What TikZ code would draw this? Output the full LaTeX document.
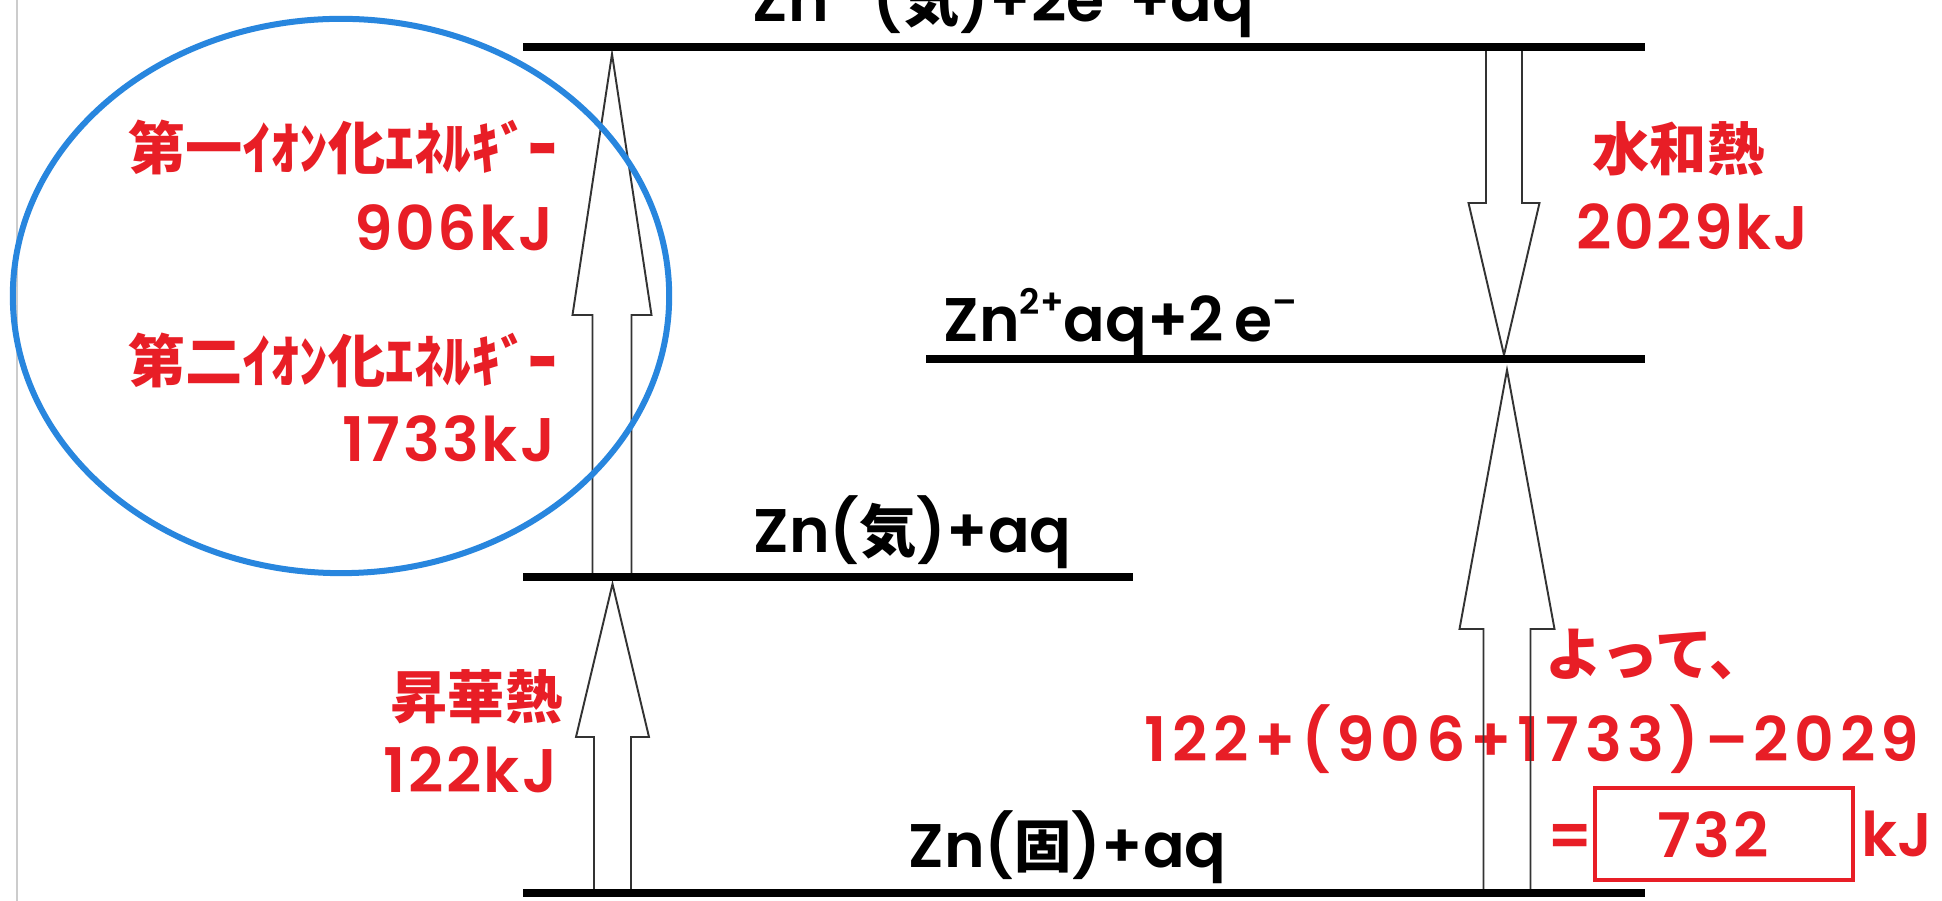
\documentclass[tikz,border=0pt]{standalone}
\usepackage{fontspec}
\setmainfont{Poppins}[BoldFont={Poppins SemiBold}]
\newfontfamily\jp{Noto Sans CJK JP}[Scale=0.93]
\definecolor{lblred}{RGB}{232,30,38}
\definecolor{ringblue}{RGB}{40,134,222}
\newcommand\sups[1]{\raisebox{0.27cm}{\fontsize{10}{10}\selectfont #1}}
\newcommand\blockarrow[6]{%
  \draw[blk] (#1-#5,#2) -- (#1-#5,#3) -- (#1-#6,#3) -- (#1,#4) -- (#1+#6,#3) -- (#1+#5,#3) -- (#1+#5,#2);}
\begin{document}
\begin{tikzpicture}[x=0.01cm,y=-0.01cm,
  level/.style={line width=0.08cm, black},
  blk/.style={draw=black!80, line width=0.55pt, line join=miter},
  redlbl/.style={text=lblred, font=\fontsize{17.5}{18}\selectfont\bfseries, inner sep=0pt},
  blklbl/.style={text=black, font=\fontsize{17.5}{18}\selectfont\bfseries, inner sep=0pt},
]
\fill[white] (0,0) rectangle (1942,901);
\useasboundingbox (0,0) rectangle (1942,901);
\draw[black!20, line width=0.02cm] (17,0) -- (17,901);

% levels
\coordinate (a1) at (523,47);  \coordinate (a2) at (1645,47);
\coordinate (b1) at (926,359); \coordinate (b2) at (1645,359);
\coordinate (c1) at (523,577); \coordinate (c2) at (1133,577);
\coordinate (d1) at (523,893); \coordinate (d2) at (1645,893);

% red labels
\node[redlbl, anchor=base east] (ie1) at (558,170) {\jp 第一ｲｵﾝ化ｴﾈﾙｷﾞｰ};
\node[redlbl, anchor=base east] (ie1v) at (554,251) {\addfontfeature{LetterSpace=4}906kJ};
\node[redlbl, anchor=base east] (ie2) at (558,383) {\jp 第二ｲｵﾝ化ｴﾈﾙｷﾞｰ};
\node[redlbl, anchor=base east] (ie2v) at (556,462) {\addfontfeature{LetterSpace=4}1733kJ};
\node[redlbl, anchor=base east] (sub) at (563,719) {\jp 昇華熱};
\node[redlbl, anchor=base east] (subv) at (558,793) {\addfontfeature{LetterSpace=4}122kJ};
\node[redlbl, anchor=base west] (hyd) at (1592,171) {\jp 水和熱};
\node[redlbl, anchor=base west] (hydv) at (1576,250) {\addfontfeature{LetterSpace=4}2029kJ};
\node[redlbl, anchor=base west] (yotte) at (1545,676) {\jp よって、};
\node[redlbl, anchor=base west] (calc) at (1144,762) {\addfontfeature{LetterSpace=9}122+(906+1733)–2029};
\node[redlbl, anchor=base west] (eq) at (1547,858) {=};
\node[draw=lblred, line width=0.04cm, minimum width=2.58cm, minimum height=0.92cm, inner sep=0pt] (ans) at (1724,834) {};
\node[redlbl, anchor=base] (ansv) at (1713,858) {\addfontfeature{LetterSpace=4}732};
\node[redlbl, anchor=base west] (kj) at (1861,857) {kJ};

% black labels
\node[blklbl, anchor=base west] (ltop) at (752,22) {Zn\sups{2+}({\jp 気})+2e\sups{–}+aq};
\node[blklbl, anchor=base west] (lb) at (943,342) {Zn\sups{2+}aq+2\,e\sups{–}};
\node[blklbl, anchor=base west] (lc) at (753,553) {Zn({\jp 気})+aq};
\node[blklbl, anchor=base west] (ld) at (908,868) {Zn({\jp 固})+aq};

% block arrows
\blockarrow{612.5}{893}{737}{584}{18.5}{36.5}
\blockarrow{612}{577}{315}{54}{19.5}{39.5}
\blockarrow{1504}{47}{203}{355}{18}{35.5}
\blockarrow{1507}{893}{629}{370}{23.5}{47.5}

% level lines
\draw[level] (a1) -- (a2);
\draw[level] (b1) -- (b2);
\draw[level] (c1) -- (c2);
\draw[level] (d1) -- (d2);

% ring
\draw[ringblue, line width=0.06cm] (341,296) ellipse [x radius=3.28cm, y radius=2.77cm];
\end{tikzpicture}
\end{document}
